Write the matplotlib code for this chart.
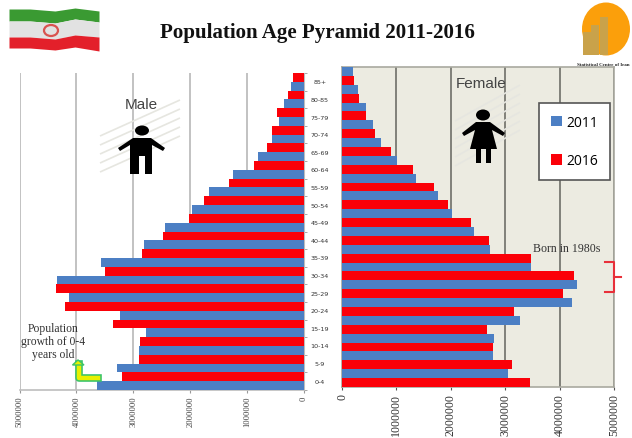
import numpy as np
import matplotlib
matplotlib.use('Agg')
import matplotlib.pyplot as plt
from matplotlib.patches import Ellipse, Polygon, Rectangle

ages = ['0-4', '5-9', '10-14', '15-19', '20-24', '25-29', '30-34', '35-39', '40-44',
        '45-49', '50-54', '55-59', '60-64', '65-69', '70-74', '75-79', '80-85', '85+']

# values listed from the youngest group upward
male_2011 = [3640000, 3283000, 2900000, 2784000, 3230000, 4133000, 4338000, 3564000, 2808000,
             2450000, 1975000, 1665000, 1243000, 803000, 563000, 445000, 346000, 229000]
male_2016 = [3195000, 2896000, 2884000, 3353000, 4203000, 4361000, 3505000, 2843000, 2480000,
             2028000, 1758000, 1319000, 873000, 645000, 557000, 469000, 281000, 200000]
female_2011 = [3050000, 2769000, 2787000, 3270000, 4230000, 4328000, 3466000, 2726000, 2427000,
               2017000, 1767000, 1363000, 1009000, 709000, 568000, 446000, 287000, 202000]
female_2016 = [3447000, 3130000, 2775000, 2671000, 3154000, 4059000, 4267000, 3466000, 2702000,
               2372000, 1950000, 1687000, 1296000, 905000, 611000, 446000, 312000, 226000]
ticks = [0, 1000000, 2000000, 3000000, 4000000, 5000000]

W, H = 632, 439
BLUE = '#4c7fc4'
RED = '#fb0008'
SERIF = 'Liberation Serif'
SANS = 'Liberation Sans'


def px_axes(x0, x1, y_top, y_bottom):
    return fig.add_axes([x0 / W, 1 - y_bottom / H, (x1 - x0) / W, (y_bottom - y_top) / H])


fig = plt.figure(figsize=(W / 100, H / 100), dpi=100)
y = np.arange(len(ages))
h = 0.5

# male side
ax_l = px_axes(19.5, 304, 74, 391)
ax_l.barh(y + 0.25, male_2016, height=h, color=RED, zorder=3)
ax_l.barh(y - 0.25, male_2011, height=h, color=BLUE, zorder=3)
ax_l.set_xlim(5000000, 0)
ax_l.set_ylim(-0.5, len(ages) - 0.5)
ax_l.set_xticks(ticks)
ax_l.set_xticklabels([str(t) for t in ticks], rotation=90, fontsize=6.2, family=SERIF, color='#444444')
ax_l.grid(axis='x', color='#bdbdbd', lw=1.3, zorder=0)
ax_l.set_axisbelow(True)
ax_l.set_yticks(np.arange(len(ages) + 1) - 0.5)
ax_l.set_yticklabels([])
ax_l.yaxis.tick_right()
ax_l.tick_params(axis='y', length=2, color='#999999', width=0.6)
ax_l.tick_params(axis='x', length=2, color='#999999', width=0.8, pad=2)
for side in ['top', 'left']:
    ax_l.spines[side].set_visible(False)
ax_l.spines['bottom'].set_color('#bdbdbd')
ax_l.spines['bottom'].set_linewidth(1.2)
ax_l.spines['right'].set_color('#bdbdbd')
for i, age in enumerate(ages):
    ax_l.text(-280000, i, age, ha='center', va='center', fontsize=4.6, color='#333333',
              clip_on=False)

# female side
ax_r = px_axes(342, 614, 68, 388)
ax_r.set_facecolor('#ecebe1')
bars_2016 = ax_r.barh(y - 0.25, female_2016, height=h, color=RED, zorder=3, label='2016')
bars_2011 = ax_r.barh(y + 0.25, female_2011, height=h, color=BLUE, zorder=3, label='2011')
ax_r.set_xlim(0, 5000000)
ax_r.set_ylim(-0.5, len(ages) - 0.5)
ax_r.set_xticks(ticks)
ax_r.set_xticklabels([str(t) for t in ticks], rotation=90, fontsize=8.6, family=SERIF, color='#333333')
ax_r.grid(axis='x', color='#6f6f68', lw=1.2, zorder=0)
ax_r.set_axisbelow(True)
ax_r.set_yticks([])
ax_r.tick_params(axis='x', length=2.5, color='#555555', width=0.8, pad=2)
for spine in ax_r.spines.values():
    spine.set_color('#a9a9a0')
    spine.set_linewidth(1.2)
leg = ax_r.legend(handles=[bars_2011, bars_2016], loc='upper left',
                  bbox_to_anchor=(539 / W, 1 - 104 / H), bbox_transform=fig.transFigure,
                  frameon=True, fancybox=False, framealpha=1, edgecolor='#555555',
                  prop={'family': 'Open Sans', 'size': 10}, handlelength=0.8, handleheight=0.8,
                  handletextpad=0.3, labelspacing=1.7, borderpad=0.85, borderaxespad=0)
leg.get_frame().set_linewidth(1.2)
leg.set_zorder(10)

# pixel overlay for the slide decorations
ov = fig.add_axes([0, 0, 1, 1], zorder=5)
ov.set_xlim(0, W)
ov.set_ylim(H, 0)
ov.axis('off')
ov.patch.set_alpha(0)

ov.text(317.5, 33, 'Population Age Pyramid 2011-2016', ha='center', va='center', fontsize=15.1,
        fontweight='bold', family=SERIF, color='#111111')

# flag
xs = [9, 30, 55, 75, 99]
top = [10, 10, 12, 9, 12]
g_w = [22, 22, 24, 20, 23]
w_r = [38, 38, 40, 36, 38]
bot = [49, 49, 51, 48, 52]
ov.fill_between(xs, top, g_w, color='#3a9a32', lw=0)
ov.fill_between(xs, g_w, w_r, color='#e2e2e2', lw=0)
ov.fill_between(xs, w_r, bot, color='#e3202a', lw=0)
ov.add_patch(Ellipse((51, 31.5), 14, 11, fc='none', ec='#d9534f', lw=1.6))

# logo
ov.add_patch(Ellipse((606, 30), 48, 53, color='#fb9f0b', lw=0))
for bx, bw, btop in [(583, 7.5, 33), (591, 7.5, 26), (600, 8, 18)]:
    ov.add_patch(Rectangle((bx, btop), bw, 56 - btop, color='#c9a24a', lw=0))
ov.text(603, 65.5, 'Statistical Centre of Iran', ha='center', va='center', fontsize=3.6,
        fontweight='bold', family=SERIF, color='#222222')


# faint diagonal shading behind the two figures
def hatch(x0, x1, y0, y1):
    for s in np.arange(y0 + 12, y1 + 1, 9):
        ov.plot([x0, x1], [s, s - 36], color='#e6e6e0', lw=1.2, zorder=1, solid_capstyle='butt')


hatch(100, 180, 125, 180)
hatch(455, 520, 110, 170)

# male figure
ov.add_patch(Ellipse((142, 131.5), 14, 10, color='black', lw=0, zorder=4))
ov.add_patch(Polygon([(133, 139), (151, 139), (165, 149), (163, 152), (152, 146), (152, 175), (145, 175),
                      (145, 157), (139, 157), (139, 175), (130, 175), (130, 146), (120, 152), (118, 149)],
                     color='black', lw=0, zorder=4))
# female figure
ov.add_patch(Ellipse((483, 116), 14, 11, color='black', lw=0, zorder=4))
ov.add_patch(Polygon([(476, 123), (490, 123), (505, 134), (503, 137), (492, 131), (497, 150), (491, 150),
                      (491, 164), (486, 164), (486, 150), (481, 150), (481, 164), (476, 164), (476, 150),
                      (470, 150), (475, 131), (464, 137), (462, 134)],
                     color='black', lw=0, zorder=4))

ov.text(141, 105, 'Male', ha='center', va='center', fontsize=11, family=SANS, color='#444444')
ov.text(481, 84, 'Female', ha='center', va='center', fontsize=11, family=SANS, color='#444444')
ov.text(567, 249, 'Born in 1980s', ha='center', va='center', fontsize=8.6, family=SERIF, color='#333333')
ov.text(53, 342, 'Population\ngrowth of 0-4\nyears old', ha='center', va='center', fontsize=8.4,
        family=SERIF, color='#333333', linespacing=1.15)

# bracket
ov.plot([605, 614, 614, 605], [263, 263, 293, 293], color='#e8303a', lw=1.5)
ov.plot([614, 621], [278, 278], color='#e8303a', lw=1.5)

# arrow
ov.plot([98, 79, 79], [378.5, 378.5, 365], color='#39c46a', lw=5.5, solid_joinstyle='round', zorder=4)
ov.plot([98, 79, 79], [378.5, 378.5, 365], color='#e8f000', lw=3.2, solid_joinstyle='round', zorder=5)
ov.add_patch(Polygon([(72.5, 366), (78, 361), (84, 366)], fc='#e8f000', ec='#39c46a', lw=1, zorder=5))

fig.savefig('out.png', dpi=100)
